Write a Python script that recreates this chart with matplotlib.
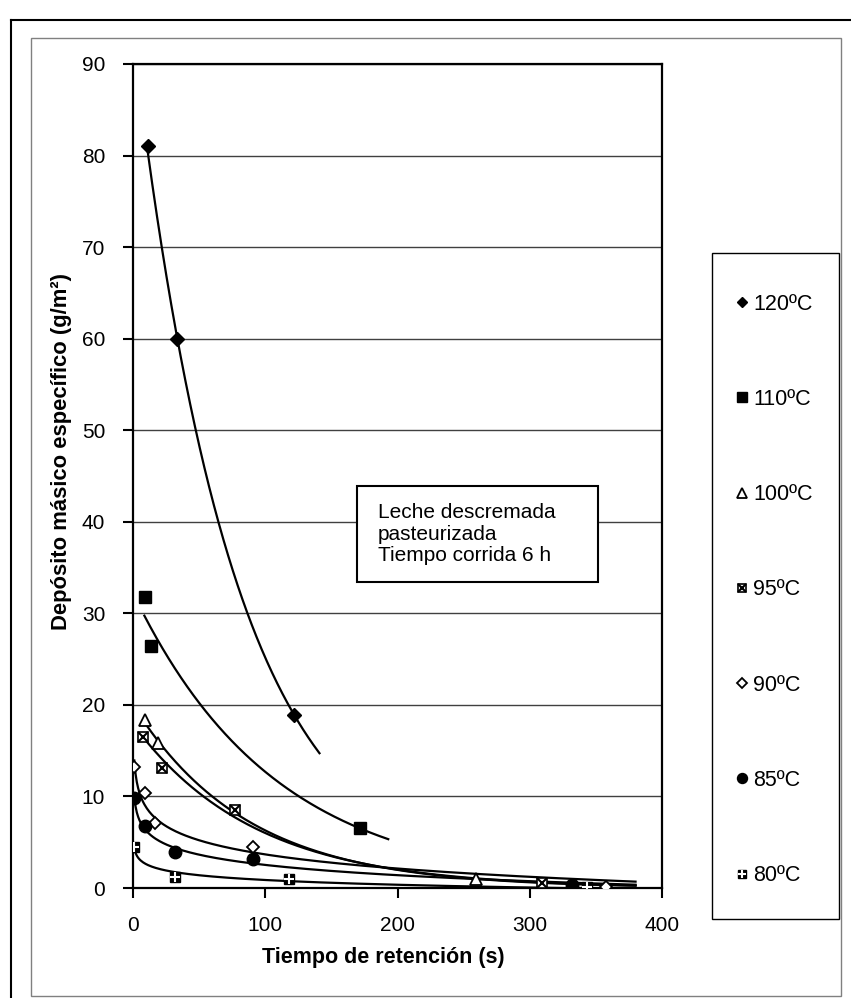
import numpy as np
import matplotlib
matplotlib.use('Agg')
import matplotlib.pyplot as plt
from matplotlib.lines import Line2D
from matplotlib.patches import Rectangle

plt.rcParams['font.family'] = ['Liberation Sans', 'DejaVu Sans']

# datos (tiempo de retencion s, deposito g/m2)
t120 = [11, 33, 122]
d120 = [81.0, 60.0, 18.9]
t110 = [9, 13.6, 172]
d110 = [31.8, 26.4, 6.5]
t100 = [9, 19, 259]
d100 = [18.3, 15.8, 1.0]
t95 = [7.3, 21.7, 77, 309]
d95 = [16.5, 13.1, 8.5, 0.6]
t90 = [1, 9, 17, 90.5, 358]
d90 = [13.2, 10.4, 7.1, 4.5, 0.1]
t85 = [1, 9, 32, 91, 332]
d85 = [9.8, 6.8, 3.9, 3.2, 0.3]
t80 = [1, 32, 118, 343]
d80 = [4.5, 1.2, 0.95, 0.1]

etiquetas = ['120ºC', '110ºC', '100ºC', '95ºC', '90ºC', '85ºC', '80ºC']
# tipo de linea de tendencia y rango dibujado
tendencia = ['exp', 'exp', 'exp', 'exp', 'log', 'log', 'log']
rango_t = [(11, 141), (8.6, 193), (9, 380), (7.3, 380), (1, 380), (1, 380), (1, 380)]

texto_caja = 'Leche descremada\npasteurizada\nTiempo corrida 6 h'

W, H = 851, 998


def fx(px):
    return px / W


def fy(py):
    return 1 - py / H


def curva(t, d, tipo, t0, t1):
    xs = np.linspace(t0, t1, 400)
    if tipo == 'exp':
        b, lna = np.polyfit(t, np.log(d), 1)
        return xs, np.exp(lna + b * xs)
    b, a = np.polyfit(np.log(t), d, 1)
    return xs, a + b * np.log(xs)


fig = plt.figure(figsize=(W / 100, H / 100), dpi=100)

# marcos exteriores
fig.add_artist(Line2D([fx(11), fx(11)], [fy(20), 0], color='black', lw=1.5))
fig.add_artist(Line2D([fx(11), 1], [fy(20), fy(20)], color='black', lw=1.5))
fig.add_artist(Rectangle((fx(31), fy(996)), fx(841) - fx(31), fy(38) - fy(996),
                         transform=fig.transFigure, fill=False, ec='#808080', lw=1))

ax = fig.add_axes([fx(133), fy(888), fx(662) - fx(133), fy(64) - fy(888)])

series = [(t120, d120), (t110, d110), (t100, d100), (t95, d95),
          (t90, d90), (t85, d85), (t80, d80)]

for (t, d), tipo, (t0, t1) in zip(series, tendencia, rango_t):
    xs, ys = curva(t, d, tipo, t0, t1)
    ax.plot(xs, ys, color='black', lw=1.6, zorder=2)

# marcadores
m120, = ax.plot(t120, d120, 'D', ms=7, color='black', ls='none', zorder=3)
m110, = ax.plot(t110, d110, 's', ms=8.5, color='black', ls='none', zorder=3)
m100, = ax.plot(t100, d100, '^', ms=8.5, mfc='white', mec='black', mew=1.3, ls='none', zorder=3)
m95a, = ax.plot(t95, d95, 's', ms=7.5, mfc='white', mec='black', mew=1.2, ls='none', zorder=3)
m95b, = ax.plot(t95, d95, 'x', ms=7.5, mec='black', mew=1.5, ls='none', zorder=3)
m90, = ax.plot(t90, d90, 'D', ms=6.5, mfc='white', mec='black', mew=1.3, ls='none', zorder=3)
m85, = ax.plot(t85, d85, 'o', ms=9, color='black', ls='none', zorder=3)
m80a, = ax.plot(t80, d80, 's', ms=7.5, color='black', ls='none', zorder=3)
m80b, = ax.plot(t80, d80, '+', ms=7.5, mec='white', mew=1.5, ls='none', zorder=3)

ax.set_xlim(0, 400)
ax.set_ylim(0, 90)
ax.set_xticks([0, 100, 200, 300, 400])
ax.set_yticks(range(0, 91, 10))
ax.yaxis.grid(True, color='#404040', lw=1)
ax.set_axisbelow(True)
for s in ax.spines.values():
    s.set_linewidth(1.6)
ax.tick_params(direction='out', length=7, width=1.5, labelsize=15, pad=13)

fig.text(fx(383), fy(958), 'Tiempo de retención (s)', fontsize=15.5, fontweight='bold',
         ha='center', va='center')
fig.text(fx(62), fy(452), 'Depósito másico específico (g/m²)', fontsize=15.8,
         fontweight='bold', rotation=90, ha='center', va='center')

# caja de texto
fig.add_artist(Rectangle((fx(357), fy(582)), fx(598) - fx(357), fy(486) - fy(582),
                         transform=fig.transFigure, fc='white', ec='black', lw=1.5))
fig.text(fx(378), fy(534), texto_caja, fontsize=15, ha='left', va='center',
         linespacing=1.15)

# leyenda
fig.add_artist(Rectangle((fx(712), fy(919)), fx(839) - fx(712), fy(253) - fy(919),
                         transform=fig.transFigure, fc='white', ec='black', lw=1))
handles = [m120, m110, m100, (m95a, m95b), m90, m85, (m80a, m80b)]
fig.legend(handles, etiquetas, loc='upper left', bbox_to_anchor=(fx(735.8), fy(293.5)),
           frameon=False, fontsize=15.5, borderpad=0, borderaxespad=0,
           handlelength=0.6, handletextpad=0.2, labelspacing=3.45, markerscale=0.8)

fig.savefig('out.png', dpi=100)
